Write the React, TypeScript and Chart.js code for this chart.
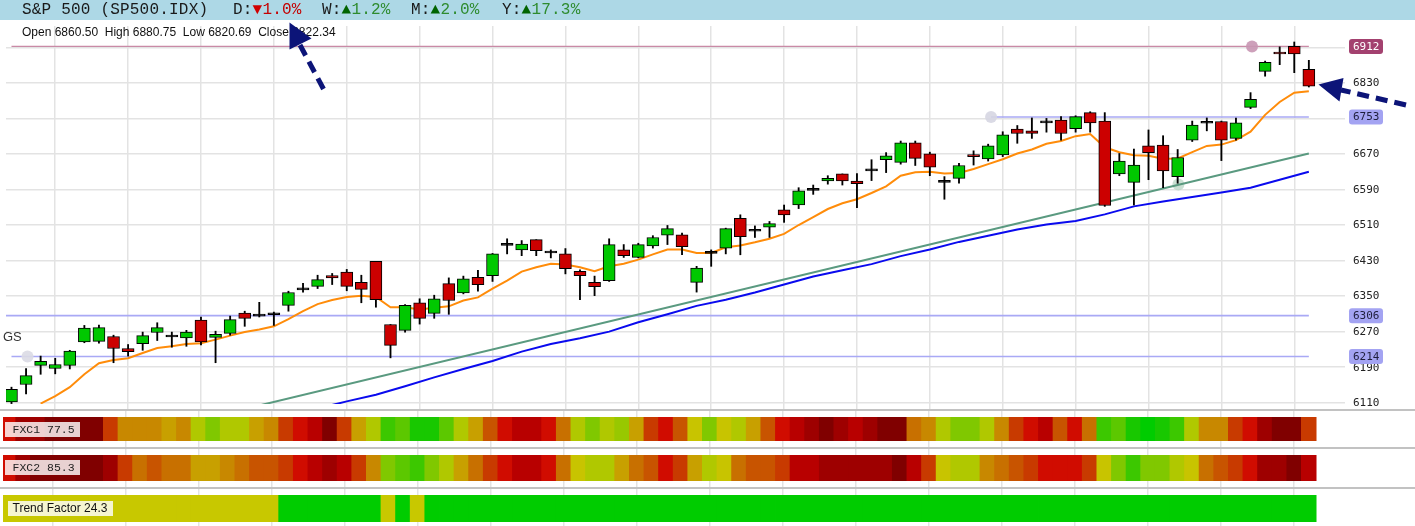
import React, { useEffect, useRef } from "react";
import { Chart, registerables } from "chart.js";

Chart.register(...registerables);

// ---------------- data ----------------
const OPEN = [
  6112, 6151, 6194, 6187, 6194, 6247, 6248, 6259, 6232, 6243,
  6268, 6258, 6256, 6296, 6257, 6266, 6312, 6305, 6308, 6329,
  6364, 6372, 6396, 6404, 6381, 6428, 6286, 6273, 6335, 6311,
  6378, 6357, 6392, 6396, 6464, 6454, 6477, 6447, 6445, 6406,
  6381, 6385, 6454, 6437, 6463, 6487, 6488, 6381, 6447, 6458,
  6525, 6496, 6505, 6544, 6555, 6588, 6609, 6625, 6609, 6632,
  6657, 6651, 6695, 6670, 6606, 6615, 6668, 6659, 6668, 6726,
  6722, 6740, 6746, 6727, 6763, 6744, 6625, 6606, 6688, 6690,
  6619, 6701, 6739, 6743, 6705, 6775, 6856, 6899, 6912, 6860.5,
];
const HIGH = [
  6145, 6187, 6215, 6210, 6228, 6284, 6285, 6262, 6241, 6269,
  6290, 6269, 6273, 6303, 6271, 6305, 6316, 6336, 6314, 6361,
  6379, 6397, 6401, 6410, 6397, 6428, 6286, 6331, 6344, 6352,
  6391, 6395, 6408, 6446, 6479, 6475, 6477, 6454, 6457, 6409,
  6395, 6479, 6466, 6469, 6486, 6509, 6492, 6417, 6454, 6503,
  6533, 6508, 6518, 6555, 6594, 6600, 6621, 6625, 6626, 6657,
  6673, 6699, 6699, 6674, 6619, 6649, 6677, 6692, 6720, 6734,
  6751, 6750, 6754, 6756, 6765, 6763, 6671, 6681, 6724, 6711,
  6680, 6744, 6751, 6744, 6751, 6808, 6879, 6911, 6922, 6880.75,
];
const LOW = [
  6108, 6130, 6174, 6175, 6186, 6245, 6244, 6200, 6215, 6228,
  6250, 6235, 6237, 6240, 6200, 6262, 6282, 6303, 6284, 6316,
  6359, 6367, 6376, 6362, 6335, 6325, 6211, 6269, 6287, 6300,
  6309, 6355, 6361, 6383, 6445, 6441, 6441, 6436, 6400, 6342,
  6351, 6383, 6437, 6436, 6458, 6466, 6443, 6359, 6417, 6445,
  6443, 6482, 6482, 6516, 6547, 6579, 6602, 6600, 6549, 6610,
  6628, 6647, 6644, 6621, 6568, 6604, 6645, 6654, 6664, 6694,
  6705, 6719, 6701, 6719, 6719, 6552, 6621, 6555, 6612, 6594,
  6604, 6698, 6722, 6655, 6701, 6772, 6845, 6871, 6853, 6820.69,
];
const CLOSE = [
  6140, 6171, 6203, 6196, 6226, 6278, 6279, 6232, 6225, 6261,
  6279, 6258, 6269, 6247, 6264, 6297, 6300, 6305, 6308, 6358,
  6365, 6387, 6391, 6372, 6365, 6342, 6239, 6329, 6300, 6344,
  6340, 6389, 6376, 6445, 6464, 6467, 6452, 6447, 6412, 6396,
  6371, 6466, 6441, 6466, 6482, 6502, 6461, 6413, 6446, 6502,
  6484, 6496, 6513, 6533, 6587, 6588, 6615, 6609, 6603, 6632,
  6666, 6695, 6660, 6640, 6606, 6644, 6664, 6688, 6713, 6716,
  6716, 6740, 6716, 6754, 6740, 6554, 6654, 6645, 6673, 6632,
  6662, 6735, 6739, 6701, 6740, 6793, 6876, 6895, 6895, 6822.34,
];

// fast moving average (orange)
const FAST_MA: (number | null)[] = [
  null, null, 6108, 6125, 6145, 6174, 6199, 6206, 6210, 6222,
  6233, 6237, 6242, 6244, 6252, 6261, 6269, 6275, 6282, 6298,
  6316, 6332, 6341, 6348, 6351, 6348, 6325, 6325, 6320, 6324,
  6327, 6340, 6347, 6367, 6385, 6405, 6415, 6423, 6421, 6415,
  6406, 6417, 6423, 6432, 6444, 6455, 6455, 6447, 6447, 6460,
  6464, 6471, 6479, 6490, 6510, 6528, 6546, 6559, 6568, 6582,
  6597, 6621, 6629, 6630, 6626, 6627, 6636, 6647, 6658, 6671,
  6680, 6693, 6699, 6710, 6715, 6685, 6674, 6667, 6666, 6659,
  6660, 6674, 6688, 6691, 6701, 6720, 6758, 6787, 6808, 6811,
];

// slow moving average (blue), read at these bar indices
const SLOW_MA_AT = [
  21, 23, 25, 27, 29, 31, 33, 35, 37, 39, 41, 43, 45, 47, 49, 51, 53, 55,
  57, 59, 61, 63, 65, 67, 69, 71, 73, 75, 77, 79, 81, 83, 85, 87, 89,
];
const SLOW_MA = [
  6097, 6113, 6128, 6147, 6167, 6186, 6204, 6225, 6242, 6255, 6270, 6291,
  6309, 6328, 6342, 6358, 6376, 6394, 6408, 6422, 6440, 6455, 6472, 6486,
  6500, 6511, 6519, 6534, 6552, 6563, 6573, 6583, 6594, 6612, 6630,
];

// straight trend line (green)
const TREND_LINE_AT = [16, 89];
const TREND_LINE_VAL = [6096, 6671];

// horizontal levels
const LEVEL_VALUES = [6912, 6753, 6306, 6214];
const LEVEL_FROM = [0, 67.2, -1, 0];
const LEVEL_TO = [89, 89, 89, 89];
const LEVEL_COLORS = ["#c98aa6", "#a9a9f5", "#a9a9f5", "#a9a9f5"];
const BADGE_BG = ["#a3416f", "#a3a3f2", "#a3a3f2", "#a3a3f2"];
const BADGE_FG = ["#ffffff", "#1e1e3c", "#1e1e3c", "#1e1e3c"];

// round markers
const MARKER_AT = [85.1, 67.2, 1.1, 80.05];
const MARKER_VAL = [6912, 6753, 6214, 6601];
const MARKER_COLORS = [
  "rgba(200,150,178,0.9)",
  "rgba(214,214,226,0.9)",
  "rgba(218,218,228,0.9)",
  "rgba(184,214,196,0.75)",
];

const Y_TICKS = [6110, 6190, 6270, 6350, 6430, 6510, 6590, 6670, 6750, 6830, 6910];
const X_GRID = [3, 8, 13, 18, 23, 28, 33, 38, 43, 48, 53, 58, 63, 68, 73, 78, 83, 88];

// heat strips: level index into HEAT_PALETTE per bar
const FXC1 = [
  3, 1, 1, 0, 0, 0, 0, 4, 7, 7,
  7, 8, 7, 10, 12, 10, 10, 8, 7, 4,
  3, 2, 0, 4, 8, 10, 14, 13, 15, 15,
  13, 10, 8, 5, 3, 2, 2, 3, 6, 10,
  12, 10, 11, 8, 4, 3, 5, 9, 12, 9,
  10, 8, 5, 3, 2, 1, 0, 1, 2, 1,
  0, 0, 6, 7, 10, 12, 12, 10, 7, 4,
  3, 2, 5, 3, 6, 14, 13, 15, 16, 15,
  14, 10, 7, 7, 4, 3, 1, 0, 0, 4,
];
const FXC2 = [
  3, 1, 0, 0, 0, 0, 0, 1, 4, 6,
  5, 6, 6, 8, 8, 7, 6, 5, 5, 4,
  3, 2, 1, 2, 4, 7, 12, 13, 14, 12,
  10, 8, 6, 4, 3, 2, 2, 3, 6, 9,
  10, 10, 8, 6, 5, 3, 4, 8, 10, 9,
  6, 5, 5, 4, 2, 2, 1, 1, 1, 1,
  1, 0, 2, 4, 9, 10, 10, 7, 6, 5,
  4, 3, 3, 3, 4, 9, 12, 14, 12, 12,
  10, 9, 6, 5, 4, 3, 1, 1, 0, 2,
];
const TREND_FACTOR = [
  0, 0, 0, 0, 0, 0, 0, 0, 0, 0,
  0, 0, 0, 0, 0, 0, 0, 0, 0, 1,
  1, 1, 1, 1, 1, 1, 0, 1, 0, 1,
  1, 1, 1, 1, 1, 1, 1, 1, 1, 1,
  1, 1, 1, 1, 1, 1, 1, 1, 1, 1,
  1, 1, 1, 1, 1, 1, 1, 1, 1, 1,
  1, 1, 1, 1, 1, 1, 1, 1, 1, 1,
  1, 1, 1, 1, 1, 1, 1, 1, 1, 1,
  1, 1, 1, 1, 1, 1, 1, 1, 1, 1,
];
const HEAT_PALETTE = [
  "#800000", "#9e0000", "#b80000", "#d00c00", "#c83a00", "#c85400",
  "#c87000", "#c88800", "#c8a000", "#c8c400", "#b0c800", "#98c800",
  "#80c800", "#5cc800", "#3cc800", "#18c800", "#00cc00",
];
const TREND_PALETTE = ["#c8c800", "#00cc00"];

// ---------------- layout constants ----------------
const W = 1415;
const PLOT_LEFT = 3;
const AXIS_W = 70;
const X_MIN = -0.376;
const X_MAX = 91.48;
const Y_MIN = 6093.6;
const Y_MAX = 6958;
const GRID = "#e3e3e3";
const MONO = '"DejaVu Sans Mono", monospace';

function xAxis() {
  return {
    type: "linear" as const,
    min: X_MIN,
    max: X_MAX,
    offset: false,
    ticks: { display: false },
    grid: { color: GRID, lineWidth: 1.5, drawTicks: false, offset: false },
    border: { display: false },
    afterBuildTicks: (s: any) => {
      s.ticks = X_GRID.map((v) => ({ value: v }));
    },
    afterFit: (s: any) => {
      s.height = 0;
      s.paddingLeft = 0;
      s.paddingRight = 0;
    },
  };
}

// right-hand price labels and level badges, placed with the y scale
const axisLabelPlugin = {
  id: "axisLabels",
  afterDraw(chart: any) {
    const { ctx, chartArea, scales } = chart;
    ctx.save();
    ctx.font = "11px " + MONO;
    ctx.textBaseline = "middle";
    ctx.textAlign = "left";
    ctx.fillStyle = "#222222";
    scales.y.ticks.forEach((t: any) => {
      const y = scales.y.getPixelForValue(t.value);
      ctx.fillText(String(t.value), chartArea.right + 8, y + 0.5);
    });
    LEVEL_VALUES.forEach((v, k) => {
      const y = scales.y.getPixelForValue(v);
      const x = chartArea.right + 4;
      ctx.fillStyle = BADGE_BG[k];
      ctx.beginPath();
      ctx.roundRect(x, y - 7.5, 34, 15, 3);
      ctx.fill();
      ctx.fillStyle = BADGE_FG[k];
      ctx.fillText(String(v), x + 4, y + 0.5);
    });
    ctx.restore();
  },
};

function MainChart() {
  const ref = useRef<HTMLCanvasElement>(null);
  useEffect(() => {
    const idx = OPEN.map((_, i) => i);
    const bodyColors = idx.map((i) =>
      Math.abs(CLOSE[i] - OPEN[i]) < 2 ? "#000000" : CLOSE[i] > OPEN[i] ? "#00c800" : "#cc0000"
    );
    const lineClip = { left: 1, top: 1, right: 1, bottom: -6 };
    const levelSets = LEVEL_VALUES.map((v, k) => ({
      type: "line" as const,
      data: [
        { x: LEVEL_FROM[k], y: v },
        { x: LEVEL_TO[k], y: v },
      ],
      borderColor: LEVEL_COLORS[k],
      borderWidth: k === 0 ? 1.3 : 1.6,
      pointRadius: 0,
      order: 10,
    }));
    const chart = new Chart(ref.current!, {
      type: "bar",
      data: {
        datasets: [
          ...levelSets,
          {
            type: "line",
            data: MARKER_AT.map((x, k) => ({ x, y: MARKER_VAL[k] })),
            showLine: false,
            pointRadius: 6,
            pointBackgroundColor: MARKER_COLORS,
            pointBorderWidth: 0,
            order: 9,
          },
          {
            type: "line",
            data: TREND_LINE_AT.map((x, k) => ({ x, y: TREND_LINE_VAL[k] })),
            borderColor: "#5a9a80",
            borderWidth: 2,
            pointRadius: 0,
            clip: lineClip,
            order: 8,
          },
          {
            type: "line",
            data: SLOW_MA_AT.map((x, k) => ({ x, y: SLOW_MA[k] })),
            borderColor: "#0a0aee",
            borderWidth: 2,
            pointRadius: 0,
            clip: lineClip,
            order: 7,
          },
          {
            type: "line",
            data: FAST_MA.map((v, i) => ({ x: i, y: v })).filter((p) => p.y !== null),
            borderColor: "#ff8c0a",
            borderWidth: 2,
            pointRadius: 0,
            clip: lineClip,
            order: 6,
          },
          {
            type: "bar",
            data: idx.map((i) => ({ x: i, y: [LOW[i], HIGH[i]] })),
            backgroundColor: "#000000",
            borderWidth: 0,
            barThickness: 1.2,
            grouped: false,
            order: 2,
          },
          {
            type: "bar",
            data: idx.map((i) => ({ x: i, y: [OPEN[i], CLOSE[i]] })),
            backgroundColor: bodyColors,
            borderColor: "#000000",
            borderWidth: 1,
            borderSkipped: false,
            barThickness: 12,
            minBarLength: 2,
            grouped: false,
            order: 1,
          },
        ] as any,
      },
      options: {
        animation: false,
        responsive: false,
        events: [],
        layout: { padding: { left: PLOT_LEFT, right: 0, top: 2, bottom: 0 } },
        plugins: { legend: { display: false }, tooltip: { enabled: false } },
        scales: {
          x: xAxis(),
          y: {
            type: "linear",
            position: "right",
            min: Y_MIN,
            max: Y_MAX,
            ticks: { display: false },
            grid: { color: GRID, lineWidth: 1.5, drawTicks: false },
            border: { display: false },
            afterBuildTicks: (s: any) => {
              s.ticks = Y_TICKS.map((v) => ({ value: v }));
            },
            afterFit: (s: any) => {
              s.width = AXIS_W;
              s.paddingTop = 0;
              s.paddingBottom = 0;
            },
          },
        },
      } as any,
      plugins: [axisLabelPlugin],
    });
    return () => chart.destroy();
  }, []);
  return (
    <canvas
      ref={ref}
      width={W}
      height={396}
      style={{ position: "absolute", left: 0, top: 20, display: "block" }}
    />
  );
}

type StripProps = {
  levels: number[];
  palette: string[];
  top: number;
  height: number;
  barTop: number;
  barBottom: number;
};

function Strip({ levels, palette, top, height, barTop, barBottom }: StripProps) {
  const ref = useRef<HTMLCanvasElement>(null);
  useEffect(() => {
    const unit = barBottom - barTop;
    const yMax = 1 + (barTop - top) / unit;
    const yMin = -(top + height - barBottom) / unit;
    const chart = new Chart(ref.current!, {
      type: "bar",
      data: {
        datasets: [
          {
            data: levels.map((_, i) => ({ x: i, y: [0, 1] })),
            backgroundColor: levels.map((lv) => palette[lv]),
            borderWidth: 0,
            barPercentage: 1.06,
            categoryPercentage: 1,
            grouped: false,
          },
        ] as any,
      },
      options: {
        animation: false,
        responsive: false,
        events: [],
        layout: { padding: { left: PLOT_LEFT, right: AXIS_W, top: 0, bottom: 0 } },
        plugins: { legend: { display: false }, tooltip: { enabled: false } },
        scales: {
          x: xAxis(),
          y: { display: false, min: yMin, max: yMax },
        },
      } as any,
    });
    return () => chart.destroy();
  }, []);
  return (
    <canvas
      ref={ref}
      width={W}
      height={height}
      style={{ position: "absolute", left: 0, top, display: "block", background: "#ffffff" }}
    />
  );
}

function Arrows() {
  const navy = "#0c1478";
  return (
    <svg
      width={W}
      height={526}
      style={{ position: "absolute", left: 0, top: 0, pointerEvents: "none" }}
    >
      <line x1={323.5} y1={89} x2={300} y2={45} stroke={navy} strokeWidth={5} strokeDasharray="12 7" />
      <polygon points="289.5,22.5 289.5,49.5 311.5,38.5" fill={navy} />
      <line x1={1406} y1={105} x2={1341} y2={90} stroke={navy} strokeWidth={5} strokeDasharray="12 7" />
      <polygon points="1318.5,84.5 1343.5,78 1339.5,101.5" fill={navy} />
    </svg>
  );
}

const headerMono: React.CSSProperties = {
  position: "absolute",
  top: 0,
  lineHeight: "20px",
  fontFamily: '"Liberation Mono", "DejaVu Sans Mono", monospace',
  fontSize: 16,
  letterSpacing: 0.2,
  color: "#1a1a1a",
  whiteSpace: "pre",
};

function Header() {
  const red = "#c40000";
  const green = "#2e8b2e";
  const dgreen = "#006400";
  return (
    <div style={{ position: "absolute", left: 0, top: 0, width: W, height: 20, background: "#add8e6" }}>
      <span style={{ ...headerMono, left: 22 }}>S&amp;P 500 (SP500.IDX)</span>
      <span style={{ ...headerMono, left: 233 }}>
        D:<span style={{ color: "#d00000" }}>▼</span>
        <span style={{ color: red }}>1.0%</span>
      </span>
      <span style={{ ...headerMono, left: 322 }}>
        W:<span style={{ color: dgreen }}>▲</span>
        <span style={{ color: green }}>1.2%</span>
      </span>
      <span style={{ ...headerMono, left: 411 }}>
        M:<span style={{ color: dgreen }}>▲</span>
        <span style={{ color: green }}>2.0%</span>
      </span>
      <span style={{ ...headerMono, left: 502 }}>
        Y:<span style={{ color: dgreen }}>▲</span>
        <span style={{ color: green }}>17.3%</span>
      </span>
    </div>
  );
}

const sans = '"Liberation Sans", Arial, sans-serif';

const stripLabel: React.CSSProperties = {
  position: "absolute",
  height: 15,
  lineHeight: "15px",
  background: "rgba(255,255,255,0.82)",
  boxSizing: "border-box",
  whiteSpace: "pre",
};

export default function App() {
  useEffect(() => {
    document.body.style.margin = "0";
  }, []);
  const sep = (top: number) => (
    <div style={{ position: "absolute", left: 0, top, width: W, height: 2, background: "#c2c2c2" }} />
  );
  return (
    <div
      style={{
        position: "absolute",
        left: 0,
        top: 0,
        width: W,
        height: 526,
        overflow: "hidden",
        background: "#ffffff",
      }}
    >
      <MainChart />
      <Header />
      <div
        style={{
          position: "absolute",
          left: 22,
          top: 25,
          lineHeight: "14px",
          fontFamily: sans,
          fontSize: 12,
          color: "#111",
          whiteSpace: "pre",
        }}
      >
        {"Open 6860.50  High 6880.75  Low 6820.69  Close 6822.34"}
      </div>
      <div
        style={{
          position: "absolute",
          left: 3,
          top: 330,
          lineHeight: "14px",
          fontFamily: sans,
          fontSize: 13,
          color: "#333",
        }}
      >
        GS
      </div>
      <Strip levels={FXC1} palette={HEAT_PALETTE} top={411} height={36} barTop={417} barBottom={441} />
      <Strip levels={FXC2} palette={HEAT_PALETTE} top={449} height={38} barTop={455} barBottom={481} />
      <Strip levels={TREND_FACTOR} palette={TREND_PALETTE} top={489} height={37} barTop={495} barBottom={522} />
      {sep(409)}
      {sep(447)}
      {sep(487)}
      <div
        style={{
          ...stripLabel,
          left: 4.5,
          top: 422,
          width: 75,
          fontFamily: '"Liberation Mono", monospace',
          fontSize: 11.5,
          color: "#222",
          paddingLeft: 8,
        }}
      >
        FXC1 77.5
      </div>
      <div
        style={{
          ...stripLabel,
          left: 4.5,
          top: 460,
          width: 75,
          fontFamily: '"Liberation Mono", monospace',
          fontSize: 11.5,
          color: "#222",
          paddingLeft: 8,
        }}
      >
        FXC2 85.3
      </div>
      <div
        style={{
          ...stripLabel,
          left: 8,
          top: 501,
          width: 105,
          fontFamily: sans,
          fontSize: 12,
          color: "#111",
          paddingLeft: 4.5,
        }}
      >
        Trend Factor 24.3
      </div>
      <Arrows />
    </div>
  );
}
